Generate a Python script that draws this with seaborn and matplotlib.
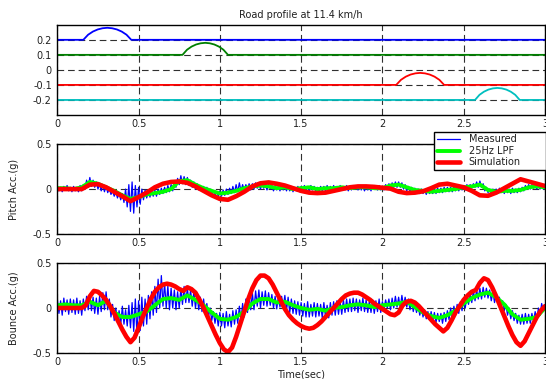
import numpy as np
import pandas as pd
import matplotlib
matplotlib.use("Agg")
import matplotlib.pyplot as plt
import seaborn as sns

# ---------------- road profile ----------------
road_baselines = [0.2, 0.1, -0.1, -0.2]
road_bump_start = [0.16, 0.77, 2.085, 2.57]
road_bump_end = [0.455, 1.05, 2.38, 2.845]
road_colors = ["#0000FF", "#008000", "#FF0000", "#00BFBF"]
# bump height at evenly spaced points across the bump (m)
bump_shape = [0.0, 0.034, 0.055, 0.069, 0.077, 0.08, 0.077, 0.069, 0.055, 0.034, 0.0]

# ---------------- pitch acceleration (g) ----------------
# measured signal sampled every 0.01 s
pitch_measured = [
    0.03, -0.02, 0.02, -0.03, 0.03, -0.01, 0.04, -0.02, 0.02, -0.03,
    0.03, -0.02, 0.02, -0.03, 0.04, -0.02, 0.05, 0.0, 0.1, 0.02,
    0.13, 0.03, 0.1, 0.02, 0.08, 0.0, 0.06, -0.02, 0.05, -0.03,
    0.04, -0.04, 0.01, -0.06, -0.02, -0.08, -0.03, -0.1, -0.04, -0.12,
    -0.05, -0.15, 0.0, -0.2, 0.05, -0.25, 0.08, -0.27, 0.04, -0.2,
    0.02, -0.17, 0.0, -0.12, -0.01, -0.1, -0.02, -0.09, -0.01, -0.08,
    -0.01, -0.08, 0.0, -0.06, 0.01, -0.05, 0.02, -0.04, 0.04, -0.03,
    0.05, -0.02, 0.08, 0.02, 0.12, 0.05, 0.15, 0.06, 0.14, 0.05,
    0.13, 0.04, 0.1, 0.02, 0.08, 0.0, 0.06, -0.01, 0.04, -0.02,
    0.03, -0.03, 0.02, -0.04, 0.0, -0.06, -0.02, -0.07, -0.03, -0.08,
    -0.02, -0.08, -0.01, -0.07, 0.0, -0.06, 0.01, -0.05, 0.03, -0.04,
    0.05, -0.03, 0.07, -0.02, 0.05, -0.01, 0.05, 0.0, 0.06, -0.01,
    0.06, 0.0, 0.07, 0.01, 0.06, 0.0, 0.07, 0.01, 0.05, -0.01,
    0.05, 0.0, 0.04, -0.02, 0.04, -0.01, 0.03, -0.02, 0.05, -0.01,
    0.04, -0.02, 0.03, -0.02, 0.03, -0.03, 0.02, -0.02, 0.03, -0.03,
    0.03, -0.02, 0.04, -0.02, 0.03, -0.03, 0.04, -0.01, 0.03, -0.02,
    0.02, -0.03, 0.03, -0.02, 0.03, -0.02, 0.04, -0.01, 0.03, -0.02,
    0.04, -0.01, 0.03, -0.02, 0.04, -0.01, 0.03, -0.01, 0.04, -0.02,
    0.03, -0.01, 0.04, 0.0, 0.03, -0.01, 0.04, -0.01, 0.03, -0.02,
    0.04, -0.01, 0.03, -0.02, 0.04, 0.0, 0.03, -0.01, 0.04, -0.01,
    0.03, -0.01, 0.05, 0.0, 0.06, 0.01, 0.07, 0.02, 0.08, 0.02,
    0.08, 0.02, 0.07, 0.0, 0.05, -0.02, 0.03, -0.03, 0.02, -0.04,
    0.01, -0.04, 0.0, -0.05, 0.0, -0.05, -0.01, -0.06, 0.0, -0.05,
    -0.01, -0.05, 0.0, -0.05, 0.01, -0.04, 0.01, -0.04, 0.02, -0.03,
    0.02, -0.03, 0.02, -0.03, 0.03, -0.02, 0.03, -0.02, 0.04, -0.01,
    0.04, -0.01, 0.05, 0.0, 0.05, 0.01, 0.06, 0.02, 0.08, 0.02,
    0.09, 0.02, 0.06, -0.02, 0.02, -0.04, 0.0, -0.05, 0.0, -0.05,
    0.0, -0.05, 0.01, -0.04, 0.0, -0.05, 0.01, -0.04, 0.0, -0.05,
    0.01, -0.04, 0.0, -0.04, 0.01, -0.03, 0.02, -0.02, 0.04, 0.0,
    0.05, 0.0, 0.05, 0.01, 0.04, 0.0, 0.04, 0.0, 0.03, 0.0,
    0.03,
]
# 25 Hz low-pass filtered signal, every 0.05 s
pitch_lpf = [
    0.01, 0.01, 0.0, 0.02, 0.08, 0.06, 0.02, -0.02, -0.07, -0.11,
    -0.09, -0.06, -0.045, -0.03, 0.0, 0.09, 0.1, 0.05, 0.01, -0.02,
    -0.05, -0.04, -0.02, 0.01, 0.03, 0.04, 0.03, 0.01, 0.02, 0.0,
    0.01, 0.02, 0.0, 0.01, 0.01, 0.02, 0.01, 0.02, 0.02, 0.01,
    0.01, 0.04, 0.05, 0.02, -0.01, -0.02, -0.03, -0.02, -0.01, 0.0,
    0.02, 0.03, 0.05, -0.01, -0.03, -0.02, -0.02, -0.01, 0.02, 0.03,
    0.02,
]
# simulation, every 0.05 s
pitch_sim = [
    0.0, 0.0, 0.0, 0.0, 0.05, 0.055, 0.02, -0.03, -0.08, -0.135,
    -0.09, -0.04, 0.02, 0.06, 0.08, 0.085, 0.07, 0.03, -0.02, -0.07,
    -0.11, -0.12, -0.08, -0.03, 0.03, 0.065, 0.075, 0.06, 0.04, 0.01,
    -0.02, -0.04, -0.045, -0.04, -0.02, 0.0, 0.02, 0.03, 0.03, 0.025,
    0.015, 0.005, -0.03, -0.045, -0.04, -0.025, 0.01, 0.05, 0.06, 0.04,
    0.02, -0.02, -0.07, -0.075, -0.04, 0.01, 0.06, 0.11, 0.085, 0.06,
    0.035,
]

# ---------------- bounce acceleration (g) ----------------
bounce_measured = [
    0.1, -0.06, 0.08, -0.08, 0.11, -0.04, 0.09, -0.07, 0.1, -0.05,
    0.09, -0.07, 0.11, -0.06, 0.08, -0.08, 0.1, -0.03, 0.13, -0.02,
    0.15, -0.03, 0.12, -0.06, 0.11, -0.07, 0.13, -0.04, 0.17, -0.02,
    0.18, -0.02, 0.1, -0.1, 0.04, -0.14, 0.0, -0.16, -0.03, -0.19,
    0.02, -0.18, -0.02, -0.2, 0.03, -0.22, 0.06, -0.26, 0.1, -0.3,
    0.08, -0.25, 0.12, -0.2, 0.1, -0.18, 0.14, -0.12, 0.18, -0.08,
    0.24, -0.05, 0.32, 0.0, 0.36, 0.02, 0.28, 0.0, 0.25, -0.02,
    0.22, 0.0, 0.2, -0.02, 0.18, 0.0, 0.22, 0.04, 0.24, 0.06,
    0.22, 0.06, 0.2, 0.02, 0.18, 0.0, 0.15, -0.02, 0.12, -0.04,
    0.1, -0.06, 0.05, -0.1, 0.0, -0.14, -0.04, -0.17, -0.06, -0.2,
    -0.05, -0.2, -0.06, -0.22, -0.04, -0.2, -0.07, -0.21, -0.03, -0.18,
    -0.02, -0.17, 0.02, -0.14, 0.05, -0.1, 0.1, -0.05, 0.14, -0.02,
    0.17, -0.02, 0.19, 0.02, 0.2, 0.0, 0.18, 0.03, 0.19, 0.02,
    0.17, 0.03, 0.15, 0.0, 0.13, -0.01, 0.12, 0.01, 0.13, 0.01,
    0.14, -0.03, 0.12, -0.05, 0.1, -0.06, 0.08, -0.07, 0.07, -0.08,
    0.06, -0.09, 0.05, -0.1, 0.07, -0.1, 0.04, -0.09, 0.06, -0.1,
    0.05, -0.09, 0.04, -0.11, 0.06, -0.1, 0.03, -0.11, 0.06, -0.08,
    0.07, -0.08, 0.08, -0.07, 0.07, -0.07, 0.09, -0.05, 0.1, -0.04,
    0.1, -0.04, 0.11, -0.03, 0.1, -0.05, 0.09, -0.03, 0.11, -0.04,
    0.09, -0.05, 0.08, -0.05, 0.09, -0.06, 0.08, -0.04, 0.1, -0.05,
    0.07, -0.01, 0.09, 0.0, 0.1, -0.02, 0.11, 0.0, 0.13, 0.01,
    0.12, 0.0, 0.14, 0.02, 0.12, 0.01, 0.1, -0.02, 0.08, -0.04,
    0.05, -0.05, 0.03, -0.08, 0.0, -0.1, -0.02, -0.12, -0.04, -0.13,
    -0.04, -0.14, -0.05, -0.16, -0.06, -0.15, -0.06, -0.17, -0.05, -0.15,
    -0.03, -0.13, 0.0, -0.11, 0.02, -0.08, 0.04, -0.06, 0.07, -0.03,
    0.1, 0.0, 0.14, 0.04, 0.16, 0.06, 0.19, 0.08, 0.2, 0.1,
    0.22, 0.1, 0.23, 0.12, 0.22, 0.11, 0.2, 0.08, 0.18, 0.06,
    0.16, 0.05, 0.12, 0.0, 0.08, -0.03, 0.04, -0.08, 0.0, -0.12,
    -0.03, -0.14, -0.06, -0.17, -0.08, -0.18, -0.07, -0.18, -0.06, -0.17,
    -0.07, -0.17, -0.06, -0.15, -0.04, -0.13, 0.0, -0.08, 0.05, -0.03,
    0.02,
]
bounce_lpf = [
    0.03, 0.04, 0.03, 0.03, 0.07, 0.03, 0.08, -0.05, -0.1, -0.1,
    -0.07, -0.04, 0.03, 0.1, 0.11, 0.09, 0.14, 0.09, 0.03, -0.05,
    -0.12, -0.13, -0.1, -0.04, 0.05, 0.1, 0.1, 0.06, 0.07, 0.03,
    0.0, -0.02, -0.01, -0.03, 0.0, 0.01, 0.03, 0.04, 0.03, 0.01,
    0.03, 0.04, 0.05, 0.07, 0.01, -0.05, -0.09, -0.11, -0.08, -0.03,
    0.05, 0.11, 0.15, 0.17, 0.12, 0.04, -0.07, -0.13, -0.12, -0.1,
    0.0,
]
# simulation, every 0.025 s
bounce_sim = [
    0.0, 0.0, 0.0, 0.0, 0.0, 0.0, 0.0, 0.03,
    0.13, 0.19, 0.18, 0.14, 0.09, 0.02, -0.06, -0.15,
    -0.24, -0.32, -0.38, -0.33, -0.22, -0.1, 0.0, 0.1,
    0.18, 0.23, 0.26, 0.27, 0.26, 0.24, 0.21, 0.19,
    0.23, 0.21, 0.17, 0.09, 0.0, -0.1, -0.2, -0.3,
    -0.39, -0.46, -0.49, -0.44, -0.32, -0.18, -0.04, 0.1,
    0.22, 0.31, 0.36, 0.36, 0.33, 0.26, 0.17, 0.08,
    -0.01, -0.08, -0.13, -0.17, -0.2, -0.22, -0.23, -0.22,
    -0.19, -0.15, -0.1, -0.05, 0.0, 0.05, 0.1, 0.14,
    0.16, 0.17, 0.17, 0.15, 0.12, 0.09, 0.05, 0.02,
    -0.01, -0.04, -0.07, -0.08, -0.05, 0.03, 0.07, 0.08,
    0.06, 0.02, -0.03, -0.08, -0.13, -0.18, -0.22, -0.26,
    -0.22, -0.14, -0.05, 0.02, 0.09, 0.14, 0.18, 0.2,
    0.28, 0.33, 0.31, 0.23, 0.13, 0.02, -0.09, -0.2,
    -0.3, -0.38, -0.42, -0.37, -0.28, -0.19, -0.1, -0.03,
    0.02,
]

x_ticks = [0, 0.5, 1, 1.5, 2, 2.5, 3]
x_tick_labels = ["0", "0.5", "1", "1.5", "2", "2.5", "3"]
road_ticks = [0.2, 0.1, 0, -0.1, -0.2]
road_tick_labels = ["0.2", "0.1", "0", "-0.1", "-0.2"]
acc_ticks = [0.5, 0, -0.5]
acc_tick_labels = ["0.5", "0", "-0.5"]


def time_axis(values, step):
    return np.round(np.arange(len(values)) * step, 4)


# ---------------- styling ----------------
sns.set_style("white")
plt.rcParams.update({
    "font.family": ["DejaVu Sans"],
    "font.size": 7,
    "text.color": "#202020",
    "axes.labelcolor": "#202020",
    "xtick.color": "black",
    "ytick.color": "black",
    "xtick.labelcolor": "#202020",
    "ytick.labelcolor": "#202020",
    "xtick.direction": "in",
    "ytick.direction": "in",
    "xtick.major.size": 3,
    "ytick.major.size": 3,
    "xtick.major.width": 0.8,
    "ytick.major.width": 0.8,
    "xtick.labelsize": 7,
    "ytick.labelsize": 7,
    "axes.edgecolor": "black",
    "axes.linewidth": 1.0,
})

fig = plt.figure(figsize=(5.46, 3.79), dpi=100)
ax_road = fig.add_axes([0.105, 0.6966, 0.893, 0.238])
ax_pitch = fig.add_axes([0.105, 0.3834, 0.893, 0.2354])
ax_bounce = fig.add_axes([0.105, 0.0686, 0.893, 0.2375])

grid_kw = dict(color="#303030", linestyle=(0, (6, 3.5)), linewidth=0.8)

for ax in (ax_road, ax_pitch, ax_bounce):
    ax.set_axisbelow(True)
    ax.grid(True, **grid_kw)
    ax.set_xlim(0, 3)
    ax.set_xticks(x_ticks)
    ax.set_xticklabels(x_tick_labels)
    ax.tick_params(axis="x", pad=3)
    ax.tick_params(axis="y", pad=4)
    for side in ("top", "right", "bottom", "left"):
        ax.spines[side].set_visible(True)
        ax.spines[side].set_color("black")

# road profile tracks
frac = np.linspace(0, 1, len(bump_shape))
for base, t0, t1, col in zip(road_baselines, road_bump_start, road_bump_end, road_colors):
    t_track = np.concatenate([[0.0], t0 + frac * (t1 - t0), [3.0]])
    h_track = np.concatenate([[base], base + np.array(bump_shape), [base]])
    df = pd.DataFrame({"t": t_track, "h": h_track})
    sns.lineplot(data=df, x="t", y="h", ax=ax_road, color=col, linewidth=1.3,
                 sort=False, estimator=None)
ax_road.set_ylim(-0.3, 0.3)
ax_road.set_yticks(road_ticks)
ax_road.set_yticklabels(road_tick_labels)
ax_road.set_xlabel("")
ax_road.set_ylabel("")
ax_road.set_title("Road profile at 11.4 km/h", fontsize=7, pad=5)


def draw_acc(ax, measured, lpf, sim, sim_step, with_labels):
    lab = (lambda s: s) if with_labels else (lambda s: None)
    sns.lineplot(x=time_axis(measured, 0.01), y=measured, ax=ax, color="#0000FF",
                 linewidth=0.9, estimator=None, label=lab("Measured"))
    sns.lineplot(x=time_axis(lpf, 0.05), y=lpf, ax=ax, color="#00FF00",
                 linewidth=2.8, estimator=None, label=lab("25Hz LPF"))
    sns.lineplot(x=time_axis(sim, sim_step), y=sim, ax=ax, color="#FF0000",
                 linewidth=3.3, estimator=None, label=lab("Simulation"))
    ax.set_ylim(-0.5, 0.5)
    ax.set_yticks(acc_ticks)
    ax.set_yticklabels(acc_tick_labels)
    ax.set_xlim(0, 3)


draw_acc(ax_pitch, pitch_measured, pitch_lpf, pitch_sim, 0.05, True)
draw_acc(ax_bounce, bounce_measured, bounce_lpf, bounce_sim, 0.025, False)

ax_pitch.set_xlabel("")
ax_pitch.set_ylabel("Pitch Acc.(g)", fontsize=7)
ax_pitch.yaxis.set_label_coords(-0.078, 0.5)
ax_bounce.set_ylabel("Bounce Acc.(g)", fontsize=7)
ax_bounce.yaxis.set_label_coords(-0.078, 0.5)
ax_bounce.set_xlabel("Time(sec)", fontsize=7, labelpad=2)

handles, labels = ax_pitch.get_legend_handles_labels()
leg = ax_pitch.legend(handles, labels, loc="upper left",
                      bbox_to_anchor=(0.772, 0.5, 0.23, 0.645), mode="expand",
                      frameon=True, fancybox=False, edgecolor="black", framealpha=1,
                      fontsize=7, handlelength=2.4, borderpad=0.3, labelspacing=0.15,
                      handletextpad=0.9, borderaxespad=0)
leg.get_frame().set_linewidth(1.0)
leg.set_zorder(10)

fig.savefig("out.png", dpi=100)
